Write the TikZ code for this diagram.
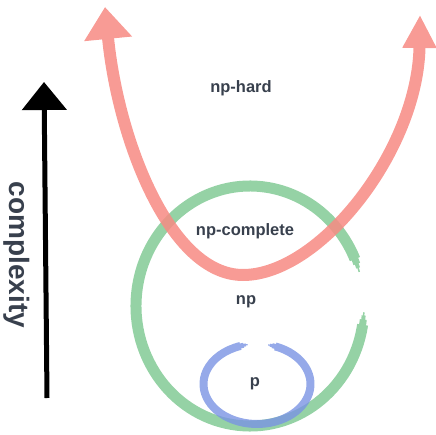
\documentclass[tikz,border=0pt]{standalone}
\usepackage{fontspec}
\setmainfont{Liberation Sans}
\usetikzlibrary{arrows.meta}
\definecolor{txt}{HTML}{38404D}
\definecolor{redc}{HTML}{F78A83}
\definecolor{greenc}{HTML}{82CA95}
\definecolor{bluec}{HTML}{7A94E3}
\tikzset{
  lbl/.style={text=txt, font=\bfseries\fontsize{16.5}{18}\selectfont, inner sep=0pt},
  ring/.style={line width=#1, line cap=butt}
}
% #1 colour, #2 centre, #3 x radius, #4 y radius, #5 start, #6 end, #7 width
\newcommand\taperarc[7]{\draw[draw=#1, ring=#7] #2 ++(#5:#3 and #4) arc[start angle=#5, end angle=#6, x radius=#3, y radius=#4];}
\begin{document}
\begin{tikzpicture}[x=1pt,y=-1pt]
\useasboundingbox (0,0) rectangle (435,435);
% complexity axis
\coordinate (cb) at (47,398);
\coordinate (ct) at (44,82);
\draw[line width=5, -{Triangle[width=44pt,length=28pt]}] (cb) -- (ct);
\node[lbl, font=\bfseries\fontsize{28}{30}\selectfont, rotate=-90] (cx) at (17,255) {complexity};
% np circle
\coordinate (npc0) at (250,306);
\begin{scope}[transparency group, opacity=0.85]
\taperarc{greenc}{(npc0)}{114}{120}{9}{337}{11}
\taperarc{greenc}{(npc0)}{114}{120}{6.5}{9.5}{7}
\taperarc{greenc}{(npc0)}{114}{120}{4.5}{7}{4}
\taperarc{greenc}{(npc0)}{114}{120}{3}{5}{1.5}
\taperarc{greenc}{(npc0)}{114}{120}{336.5}{339.5}{7}
\taperarc{greenc}{(npc0)}{114}{120}{339}{341.5}{4}
\taperarc{greenc}{(npc0)}{114}{120}{341}{343.5}{1.5}
\end{scope}
% p ellipse
\coordinate (pc0) at (257,384);
\begin{scope}[transparency group, opacity=0.8]
\taperarc{bluec}{(pc0)}{53.5}{40}{290}{612}{8}
\taperarc{bluec}{(pc0)}{53.5}{40}{286.5}{290.5}{5}
\taperarc{bluec}{(pc0)}{53.5}{40}{284}{287}{3}
\taperarc{bluec}{(pc0)}{53.5}{40}{282}{284.5}{1.2}
\taperarc{bluec}{(pc0)}{53.5}{40}{611.5}{615.5}{5}
\taperarc{bluec}{(pc0)}{53.5}{40}{615}{618}{3}
\taperarc{bluec}{(pc0)}{53.5}{40}{617.5}{620}{1.2}
\end{scope}
% np-hard curve
\coordinate (hl) at (105,7);
\coordinate (hr) at (420,15);
\coordinate (hb) at (243,275);
\begin{scope}[transparency group, opacity=0.85]
\draw[redc, line width=12, {Triangle[width=46pt,length=32pt]}-{Triangle[width=32pt,length=33pt]}]
  (hl) .. controls (118,140) and (170,275) .. (hb) .. controls (320,275) and (418,150) .. (hr);
\end{scope}
% labels
\node[lbl] (nphard) at (241,88) {np-hard};
\node[lbl] (npc) at (245,231) {np-complete};
\node[lbl] (np) at (246,302) {np};
\node[lbl] (p) at (255,384) {p};
\end{tikzpicture}
\end{document}
